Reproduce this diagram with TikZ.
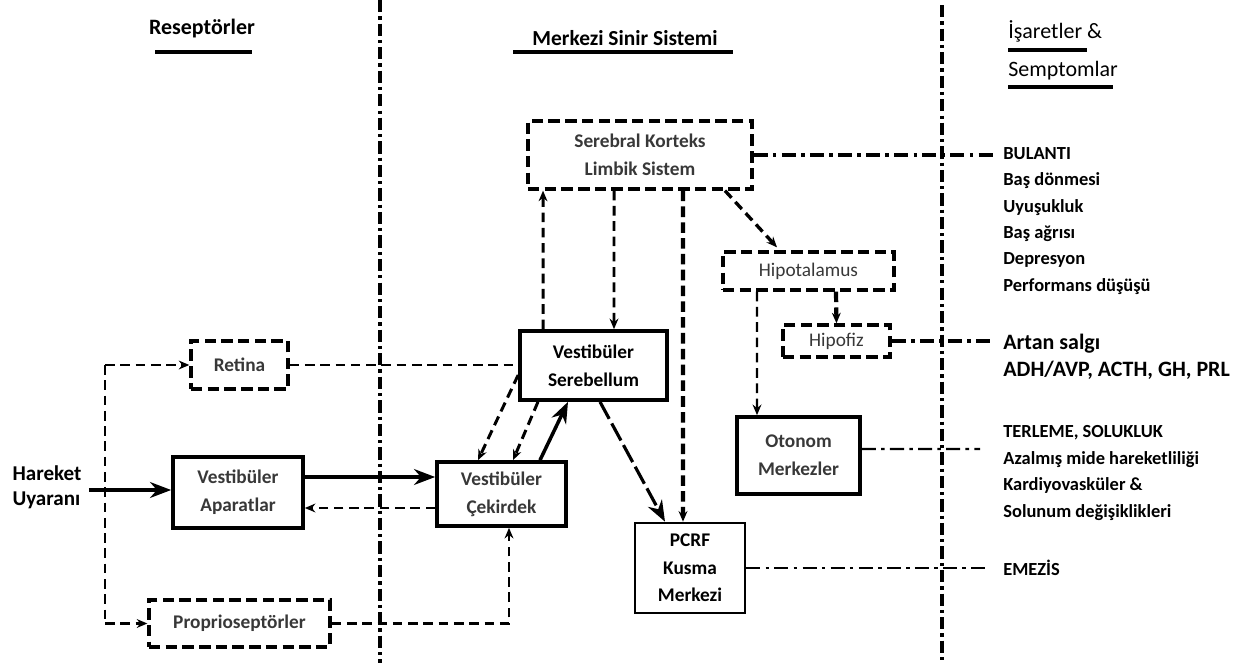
\documentclass[tikz,border=0pt]{standalone}
\usepackage{fontspec}
\setmainfont{Carlito}
\usetikzlibrary{arrows.meta}
\definecolor{tg}{HTML}{383838}
\tikzset{
  lbl/.style={font=\fontsize{11}{16}\selectfont\bfseries, align=center, text=tg},
  lblk/.style={lbl, text=black},
  lblr/.style={font=\fontsize{11}{16}\selectfont, align=center, text=tg},
  sbox/.style={draw, line width=2.1pt, inner sep=0pt},
  thinbox/.style={draw, line width=1.5pt, inner sep=0pt},
  dbox/.style={draw, line width=1.9pt, dash pattern=on 6.5pt off 3pt, inner sep=0pt},
  head/.style={font=\fontsize{12.5}{15}\selectfont\bfseries, inner sep=0pt},
  headr/.style={font=\fontsize{12.5}{15}\selectfont, inner sep=0pt, anchor=west},
  uline/.style={line width=1.8pt},
  divider/.style={line width=2.3pt, dash pattern=on 7pt off 2.3pt on 1.8pt off 2.3pt},
  dashdot/.style={line width=1.9pt, dash pattern=on 8pt off 3pt on 2pt off 3pt},
  rtext/.style={font=\fontsize{10.5}{15}\selectfont\bfseries, align=left, anchor=west, inner sep=0pt},
  dconn/.style={line width=1.7pt, dash pattern=on 5.5pt off 3.2pt},
  thickd/.style={line width=2.4pt, dash pattern=on 6pt off 3pt},
  longd/.style={line width=1.8pt, dash pattern=on 11pt off 3pt},
  tip/.style={-{Stealth[length=6pt,width=5pt]}},
  bigtip/.style={-{Stealth[length=12pt,width=9pt]}},
  sconn/.style={line width=2pt},
}
\begin{document}
\begin{tikzpicture}[x=0.02cm,y=-0.02cm]
\useasboundingbox (0,0) rectangle (1249,663);
% dividers
\draw[divider] (380,0) -- (380,663);
\draw[divider] (942,5) -- (942,663);
% headers
\node[head] (hr) at (202,29) {Reseptörler};
\draw[uline] (155,52) -- (252,52);
\node[head, font=\fontsize{12.2}{15}\selectfont\bfseries] (hm) at (625,38) {Merkezi Sinir Sistemi};
\draw[line width=2.3pt] (513,52) -- (733,52);
\node[headr] (hi) at (1008,31) {İşaretler \&};
\draw[uline] (1008,50) -- (1087,50);
\node[headr] (hs) at (1008,71) {Semptomlar};
\draw[uline] (1008,87) -- (1113,87);
% nodes
\node[dbox, lbl, minimum width=4.48cm, minimum height=1.36cm] (serebral) at (640,155) {Serebral Korteks\\Limbik Sistem};
\node[dbox, lblr, minimum width=3.42cm, minimum height=0.76cm] (hipot) at (808.5,271) {Hipotalamus};
\node[dbox, lblr, minimum width=2.14cm, minimum height=0.64cm] (hipof) at (836.5,341) {Hipofiz};
\node[sbox, lbl, minimum width=2.46cm, minimum height=1.54cm] (otonom) at (798.5,455.5) {Otonom\\Merkezler};
\node[thinbox, lblk, minimum width=2.2cm, minimum height=1.8cm, font=\fontsize{11}{15.6}\selectfont\bfseries] (pcrf) at (690,568) {PCRF\\Kusma\\Merkezi};
\node[sbox, lblk, minimum width=2.94cm, minimum height=1.38cm] (sereb) at (593.5,365.5) {Vestibüler\\Serebellum};
\node[sbox, lbl, minimum width=2.58cm, minimum height=1.28cm] (cekir) at (501.5,494) {Vestibüler\\Çekirdek};
\node[sbox, lbl, minimum width=2.6cm, minimum height=1.42cm] (apar) at (238,492.5) {Vestibüler\\Aparatlar};
\node[dbox, lbl, minimum width=1.94cm, minimum height=0.96cm] (retina) at (239.5,365) {Retina};
\node[dbox, lbl, minimum width=3.62cm, minimum height=0.94cm] (proprio) at (239.5,623.5) {Proprioseptörler};
\node[font=\fontsize{12}{14.2}\selectfont\bfseries, align=left, inner sep=0pt] (hareket) at (47,487.5) {Hareket\\Uyaranı};
% right texts
\node[rtext] (bul) at (1003,221) {BULANTI\\Baş dönmesi\\Uyuşukluk\\Baş ağrısı\\Depresyon\\Performans düşüşü};
\node[rtext, font=\fontsize{12.5}{15.4}\selectfont\bfseries] (artan) at (1003,356.5) {Artan salgı\\ADH/AVP, ACTH, GH, PRL};
\node[rtext, font=\fontsize{10.5}{15.2}\selectfont\bfseries] (terl) at (1003,473) {TERLEME, SOLUKLUK\\Azalmış mide hareketliliği\\Kardiyovasküler \&\\Solunum değişiklikleri};
\node[rtext] (emez) at (1003,568) {EMEZİS};
% free ends
\coordinate (e1) at (993,155);
\coordinate (e2) at (993,341);
\coordinate (e3) at (980,449);
\coordinate (e4) at (985,568);
\coordinate (c1) at (105,365);
\coordinate (c2) at (105,623.5);
% dash-dot lines to symptoms
\draw[dashdot] (serebral.east) -- (e1);
\draw[dashdot] (hipof.east) -- (e2);
\draw[dashdot, line width=1.4pt] ([yshift=0.13cm]otonom.east) -- (e3);
\draw[dashdot, line width=1.6pt] (pcrf.east) -- (e4);
% CNS connectors
\draw[dconn, tip] ([xshift=-0.52cm]serebral.south) -- ([xshift=0.41cm]sereb.north);
\draw[dconn, tip] ([xshift=-1.01cm]sereb.north) -- ([xshift=-1.94cm]serebral.south);
\draw[thickd, tip] ([xshift=0.86cm]serebral.south) -- ([xshift=-0.14cm]pcrf.north);
\draw[dconn, line width=1.9pt, tip] ([xshift=1.7cm]serebral.south) -- ([xshift=-0.63cm,yshift=0.06cm]hipot.north);
\draw[thickd, tip] ([xshift=0.55cm]hipot.south) -- (hipof.north);
\draw[dconn, line width=1.4pt, tip] ([xshift=-1.03cm]hipot.south) -- ([xshift=-0.83cm]otonom.north);
\draw[longd, bigtip] ([xshift=0.13cm]sereb.south) -- ([xshift=-0.5cm]pcrf.north);
\draw[dconn, tip] ([yshift=-0.19cm]sereb.west) -- ([xshift=-0.47cm]cekir.north);
\draw[dconn, tip] ([xshift=-1.11cm]sereb.south) -- ([xshift=0.23cm]cekir.north);
\draw[sconn, bigtip] ([xshift=0.77cm]cekir.north) -- ([xshift=-0.51cm]sereb.south);
\draw[dconn] (retina.east) -- (retina.east -| sereb.west);
% receptor connectors
\draw[dconn] (c1) -- (c2);
\draw[dconn, tip] (c1) -- (retina.west);
\draw[dconn, tip] (c2) -- (proprio.west);
\draw[dconn, tip] (proprio.east) -| ([xshift=0.15cm]cekir.south);
\draw[dconn, tip] ([yshift=-0.28cm]cekir.west) coordinate (r1) -- (r1 -| apar.east);
\draw[sconn, bigtip] ([yshift=0.31cm]apar.east) coordinate (s1) -- (s1 -| cekir.west);
\draw[sconn, bigtip, shorten <=4pt] ([yshift=0.05cm]apar.west -| hareket.east) -- ([yshift=0.05cm]apar.west);
\end{tikzpicture}
\end{document}
